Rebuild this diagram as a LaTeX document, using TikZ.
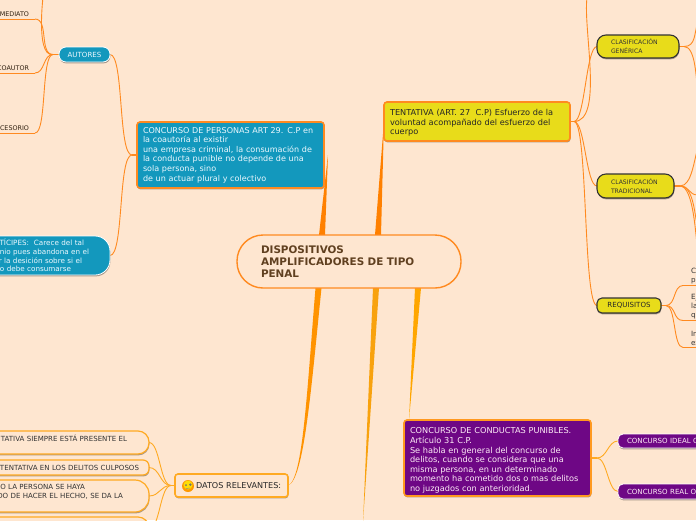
\documentclass[tikz,border=0pt]{standalone}
\usepackage{fontspec}
\usepackage{xcolor}
\setmainfont{DejaVu Sans}
\usetikzlibrary{backgrounds,shadows}
\definecolor{paper}{HTML}{FEE6D0}
\definecolor{lineor}{HTML}{FF8A20}
\definecolor{lineam}{HTML}{FFAA22}
\definecolor{teal}{HTML}{1398BD}
\definecolor{lemon}{HTML}{E8DC1A}
\definecolor{plum}{HTML}{6E0785}
\newcommand{\trunk}[3]{\fill[#1] ([xshift=-3pt]#2) -- (#3) -- ([xshift=3pt]#2) -- cycle;}
\newcommand{\gap}[1]{\rule{#1}{0pt}}

\begin{document}
\begin{tikzpicture}[x=1pt,y=-1pt]
    \tikzset{
        box/.style={anchor=north west,outer sep=0pt,align=left,inner ysep=0pt},
        soft/.style={drop shadow={shadow xshift=0.4pt,shadow yshift=-1.4pt,opacity=.35,fill=black}},
        bigtxt/.style={font=\fontsize{8.2}{9.6}\selectfont},
        smalltxt/.style={font=\fontsize{7.05}{8.8}\selectfont},
        tinytxt/.style={font=\fontsize{6.1}{8.6}\selectfont},
        link/.style={draw=lineor,line width=0.9pt},
        linkam/.style={draw=lineam,line width=0.9pt},
        stub/.style={draw=lineor,line width=1.6pt},
        stubam/.style={draw=lineam,line width=1.6pt},
        bare/.style={anchor=south east,outer sep=0pt,inner xsep=0pt,inner ysep=2.5pt,text width=60pt,align=right,text=black!75!brown,font=\fontsize{6.4}{8}\selectfont},
        bareright/.style={anchor=south west,outer sep=0pt,inner xsep=8pt,inner ysep=2pt,text width=30pt,align=left,text=black!80,font=\fontsize{7.2}{9}\selectfont},
        smiley/.pic={
            \fill[orange!80!yellow] (0,0) circle (6pt);
            \fill[yellow!80!orange] (0,-1) circle (4.5pt);
            \fill[black!55] (-2,-1) circle (1pt) (2.4,-1.4) circle (1.3pt);
            \draw[black!50,line width=0.4pt] (-2,2.5) -- (2,2);
        }
    }
    \useasboundingbox (0,0) rectangle (696,520);
    \clip (0,0) rectangle (696,520);

    % central topic and the big boxes
    \node[box,draw=lineor,line width=1.4pt,fill=paper,rounded corners=26pt,minimum width=224pt,minimum height=53pt,
        inner xsep=24pt,text width=176pt,text=brown!50!black,font=\bfseries\fontsize{10.4}{12}\selectfont] (root) at (237,235)
        {DISPOSITIVOS\\AMPLIFICADORES DE TIPO\\PENAL};
    \node[box,draw=lineor,line width=1.6pt,fill=teal,rounded corners=3pt,soft,minimum width=187pt,minimum height=66pt,
        inner xsep=6pt,text width=175pt,text=cyan!8,font=\fontsize{8.05}{9.6}\selectfont] (personas) at (137,122)
        {CONCURSO DE PERSONAS ART 29. C.P en\\la coautoría al existir\\una empresa criminal, la consumación de\\la conducta punible no depende de una\\sola persona, sino\\de un actuar plural y colectivo};
    \node[box,draw=lineor,line width=1.6pt,fill=lemon,rounded corners=3pt,soft,minimum width=186pt,minimum height=39pt,
        inner xsep=6pt,text width=174pt,text=black!85,bigtxt] (tentativa) at (384,102)
        {\rule{0pt}{9pt}TENTATIVA (ART. 27\ \ C.P) Esfuerzo de la\\voluntad acompañado del esfuerzo del\\cuerpo};
    \node[box,draw=lineam!90!red,line width=1.6pt,fill=plum,rounded corners=3pt,soft,minimum width=187pt,minimum height=76pt,
        inner xsep=6pt,text width=175pt,text=magenta!8,bigtxt] (conductas) at (404,420)
        {\rule{0pt}{11pt}CONCURSO DE CONDUCTAS PUNIBLES.\\Artículo 31 C.P.\\Se habla en general del concurso de\\delitos, cuando se considera que una\\misma persona, en un determinado\\momento ha cometido dos o mas delitos\\no juzgados con anterioridad.};
    \node[box,draw=lineam,line width=1.6pt,fill=paper,rounded corners=3pt,soft,minimum width=113pt,minimum height=23pt,
        inner xsep=0pt,text width=113pt,text=black!85,font=\fontsize{8.1}{9.6}\selectfont] (datos) at (175,474)
        {\hspace*{21pt}DATOS RELEVANTES:};
    \draw (188,486) pic {smiley};

    % left side
    \node[box,draw=white,line width=0.8pt,fill=teal,rounded corners=7pt,soft,minimum width=51pt,minimum height=15pt,
        inner xsep=0pt,text width=51pt,align=center,text=cyan!8,smalltxt] (autores) at (59,47) {AUTORES};
    \node[box,draw=white,line width=0.8pt,fill=teal,rounded corners=15pt,soft,minimum width=150pt,minimum height=39pt,
        inner xsep=0pt,text width=150pt,align=right,text=cyan!8,font=\fontsize{7.2}{8.8}\selectfont] (participes) at (-40,236)
        {TÍCIPES:\ \ Carece del tal\gap{26pt}\\inio pues abandona en el\gap{21pt}\\r la desición sobre si el\gap{28pt}\\no debe consumarse\gap{39pt}};
    \node[bare] (mediato) at (35,19) {MEDIATO\gap{6pt}};
    \node[bare] (coautor) at (35,73) {COAUTOR\gap{6pt}};
    \node[bare] (accesorio) at (35,133) {CESORIO\gap{6pt}};
    \coordinate (autortop) at (43,-2);

    \node[box,draw=lineam,line width=1.2pt,fill=paper,rounded corners=11pt,soft,minimum width=199pt,minimum height=23pt,
        inner xsep=0pt,text width=199pt,align=right,text=black!80,smalltxt] (dato1) at (-50,431)
        {TATIVA SIEMPRE ESTÁ PRESENTE EL\gap{22pt}\\\gap{1pt}};
    \node[box,draw=lineam,line width=1.2pt,fill=paper,rounded corners=6pt,soft,minimum width=199pt,minimum height=15pt,
        inner xsep=0pt,text width=199pt,align=right,text=black!80,smalltxt] (dato2) at (-50,460)
        {TENTATIVA EN LOS DELITOS CULPOSOS\gap{10pt}};
    \node[box,draw=lineam,line width=1.2pt,fill=paper,rounded corners=14pt,soft,minimum width=199pt,minimum height=32pt,
        inner xsep=0pt,text width=199pt,align=right,text=black!80,smalltxt] (dato3) at (-50,480)
        {O LA PERSONA SE HAYA\gap{64pt}\\DO DE HACER EL HECHO, SE DA LA\gap{26pt}\\\gap{1pt}};
    \node[box,draw=lineam,line width=1.2pt,fill=paper,rounded corners=11pt,soft,minimum width=199pt,minimum height=24pt] (dato4) at (-50,517) {};

    % right side
    \node[box,draw=black!80,line width=1.1pt,fill=lemon,rounded corners=9pt,soft,minimum width=82pt,minimum height=23pt,
        inner xsep=14pt,text width=54pt,text=black!80,tinytxt] (generica) at (597,35) {CLASIFICACIÓN\\GENÉRICA};
    \node[box,draw=black!80,line width=1.1pt,fill=lemon,rounded corners=9pt,soft,minimum width=77pt,minimum height=24pt,
        inner xsep=14pt,text width=49pt,text=black!80,tinytxt] (tradicional) at (597,174) {CLASIFICACIÓN\\TRADICIONAL};
    \node[box,draw=black!80,line width=1.1pt,fill=lemon,rounded corners=5pt,soft,minimum width=64pt,minimum height=15pt,
        inner xsep=0pt,text width=64pt,align=center,text=black!85,smalltxt] (requisitos) at (597,298) {REQUISITOS};
    \node[bareright] (req1) at (683,285.5) {Co\\pu};
    \node[bareright] (req2) at (683,320.5) {Ej\\la\\qu};
    \node[bareright] (req3) at (683,347.5) {In\\ex};

    \node[box,draw=white,line width=0.8pt,fill=plum,rounded corners=5pt,soft,minimum width=120pt,minimum height=14pt,
        inner xsep=9pt,text width=102pt,text=magenta!8,smalltxt] (ideal) at (618,434) {CONCURSO IDEAL C};
    \node[box,draw=white,line width=0.8pt,fill=plum,rounded corners=5pt,soft,minimum width=120pt,minimum height=15pt,
        inner xsep=9pt,text width=102pt,text=magenta!8,smalltxt] (real) at (618,484) {CONCURSO REAL O};

    % free ends of the connectors, all behind the nodes
    \coordinate (gen1) at (698,22);
    \coordinate (gen2) at (698,92);
    \coordinate (trad1) at (698,148);
    \coordinate (trad2) at (698,195);
    \coordinate (trad3) at (698,229);
    \coordinate (trad4) at (698,252);
    \coordinate (tenttop) at (587,-2);
    \coordinate (ambertip) at (363,522);
    \coordinate (rootpers) at ([xshift=-27pt]root.north);
    \coordinate (roottent) at ([xshift=29pt]root.north);
    \coordinate (rootcond) at ([xshift=69pt]root.south);
    \coordinate (rootamber) at ([xshift=27pt]root.south);
    \coordinate (rootdatl) at ([xshift=-33.5pt]root.south);
    \coordinate (rootdatr) at ([xshift=-27.5pt]root.south);
    \coordinate (perstip) at ([xshift=4pt]personas.east);
    \coordinate (condtip) at ([xshift=5pt]conductas.north west);

    \begin{pgfonlayer}{background}
        \fill[paper] (0,0) rectangle (696,520);

        % main branches
        \trunk{orange!100!red}{rootpers}{perstip}
        \trunk{orange!100!red}{roottent}{tentativa.west}
        \trunk{orange!70!yellow}{rootcond}{condtip}
        \trunk{yellow!25!orange}{rootamber}{ambertip}
        \fill[orange!85!yellow] (rootdatl) .. controls (307,390) and (303,480) .. (datos.east)
            .. controls (304,480) and (311,390) .. (rootdatr) -- cycle;

        % autores
        \coordinate (autjoin) at ([xshift=-6pt]autores.west);
        \draw[stub] (autores.west) -- (autjoin);
        \foreach \leaf/\dist in {mediato.south east/14pt,coautor.south east/10pt,accesorio.south east/12pt}{
            \draw[link] (autjoin) to[out=180,in=0,distance=\dist] (\leaf);
        }
        \draw[link] (autjoin) to[out=190,in=83,distance=20pt] (autortop);
        \draw[link] (mediato.south east) -- (mediato.south west);
        \draw[link] (coautor.south east) -- (coautor.south west);
        \draw[link] (accesorio.south east) -- (accesorio.south west);

        % personas
        \coordinate (perjoin) at ([xshift=-5pt]personas.west);
        \draw[stub] (personas.west) -- (perjoin);
        \draw[link] (autores.east) to[out=0,in=180,distance=14pt] (perjoin);
        \draw[link] (participes.east) to[out=0,in=180,distance=14pt] (perjoin);

        % tentativa
        \coordinate (tenjoin) at ([xshift=4pt]tentativa.east);
        \draw[stub] (tentativa.east) -- (tenjoin);
        \draw[link] (tenjoin) to[out=0,in=262,distance=30pt] (tenttop);
        \draw[link] (tenjoin) to[out=0,in=180,distance=11pt] (generica.west);
        \draw[link] (tenjoin) to[out=0,in=180,distance=11pt] (tradicional.west);
        \draw[link] (tenjoin) to[out=0,in=180,distance=14pt] (requisitos.west);

        % clasificaciones
        \coordinate (genjoin) at ([xshift=5pt]generica.east);
        \draw[stub] (generica.east) -- (genjoin);
        \draw[link] (genjoin) to[out=0,in=250,distance=12pt] (gen1);
        \draw[link] (genjoin) to[out=0,in=100,distance=12pt] (gen2);
        \coordinate (trajoin) at ([xshift=6pt]tradicional.east);
        \draw[stub] (tradicional.east) -- (trajoin);
        \foreach \leaf/\ang/\dist in {trad1/250/12pt,trad2/180/10pt,trad3/105/14pt,trad4/100/14pt}{
            \draw[link] (trajoin) to[out=0,in=\ang,distance=\dist] (\leaf);
        }

        % requisitos
        \coordinate (reqjoin) at ([xshift=5pt]requisitos.east);
        \draw[stub] (requisitos.east) -- (reqjoin);
        \foreach \leaf in {req1,req2,req3}{
            \draw[link] (reqjoin) to[out=0,in=180,distance=10pt] (\leaf.south west) -- (\leaf.south east);
        }

        % conductas
        \coordinate (conjoin) at ([xshift=6pt]conductas.east);
        \draw[stubam] (conductas.east) -- (conjoin);
        \draw[linkam] (conjoin) to[out=0,in=180,distance=10pt] (ideal.west);
        \draw[linkam] (conjoin) to[out=0,in=180,distance=10pt] (real.west);

        % datos
        \coordinate (datjoin) at ([xshift=-4pt]datos.west);
        \draw[stubam] (datos.west) -- (datjoin);
        \foreach \leaf in {dato1,dato2,dato3,dato4}{
            \draw[linkam] (datjoin) to[out=180,in=0,distance=11pt] (\leaf.east);
        }
    \end{pgfonlayer}
\end{tikzpicture}
\end{document}
